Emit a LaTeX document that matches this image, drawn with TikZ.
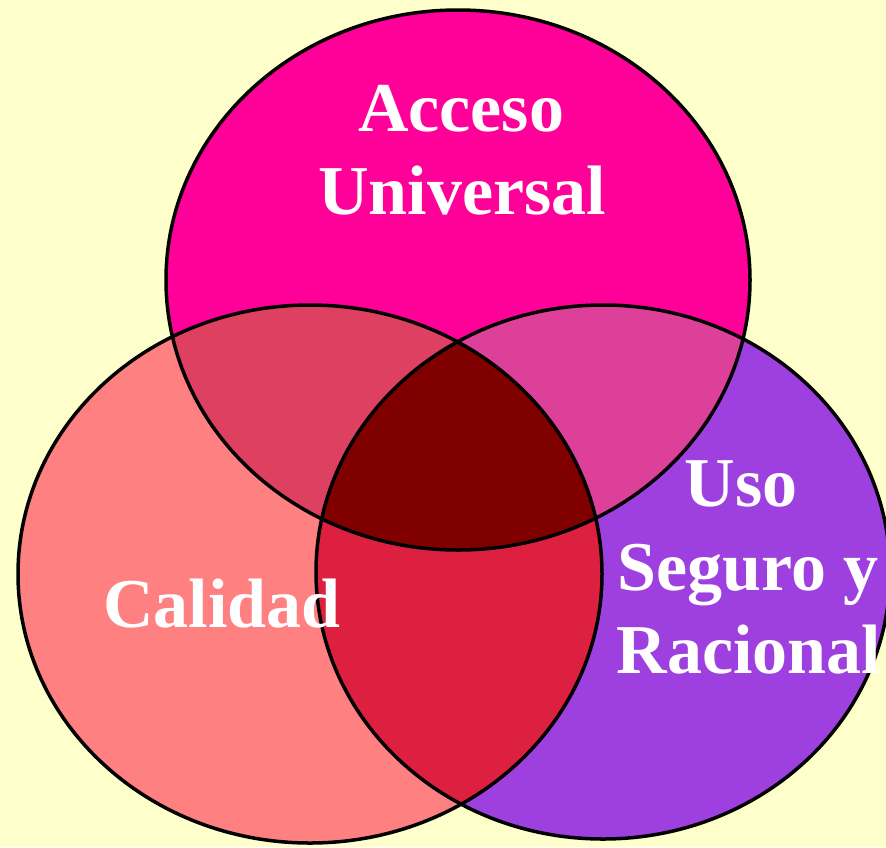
\documentclass[tikz,border=0pt]{standalone}
\usepackage{fontspec}
\setmainfont{Liberation Serif}
\definecolor{bgyellow}{HTML}{FFFFCC}
\definecolor{cTop}{HTML}{FF0099}
\definecolor{cLeft}{HTML}{FF8080}
\definecolor{cRight}{HTML}{9E3FDF}
\definecolor{cTL}{HTML}{DD4060}
\definecolor{cTR}{HTML}{DD4099}
\definecolor{cLR}{HTML}{DD1F40}
\definecolor{cAll}{HTML}{800000}
\begin{document}
\begin{tikzpicture}[x=1pt,y=-1pt,
  lbl/.style={text=white,font=\bfseries\fontsize{70}{84}\selectfont,inner sep=0pt,anchor=base},
  outline/.style={draw=black,line width=3.5pt}]
\def\topE{(458,280) ellipse [x radius=292, y radius=270]}
\def\leftE{(310,574) ellipse [x radius=292, y radius=269]}
\def\rightE{(603,572) ellipse [x radius=287, y radius=267]}
\useasboundingbox (0,0) rectangle (886,847);
\fill[bgyellow] (0,0) rectangle (886,847);
\fill[cTop] \topE;
\fill[cLeft] \leftE;
\fill[cRight] \rightE;
\begin{scope}\clip \topE; \fill[cTL] \leftE; \end{scope}
\begin{scope}\clip \topE; \fill[cTR] \rightE; \end{scope}
\begin{scope}\clip \leftE; \fill[cLR] \rightE; \end{scope}
\begin{scope}\clip \topE; \clip \leftE; \fill[cAll] \rightE; \end{scope}
\draw[outline] \topE;
\draw[outline] \leftE;
\draw[outline] \rightE;
\node[lbl] (acceso) at (461,131) {Acceso};
\node[lbl] (universal) at (462,214) {Universal};
\node[lbl] (calidad) at (222,627) {Calidad};
\node[lbl] (uso) at (741,506) {Uso};
\node[lbl] (seguro) at (748,590) {Seguro y};
\node[lbl] (racional) at (749,673) {Racional};
\end{tikzpicture}
\end{document}
